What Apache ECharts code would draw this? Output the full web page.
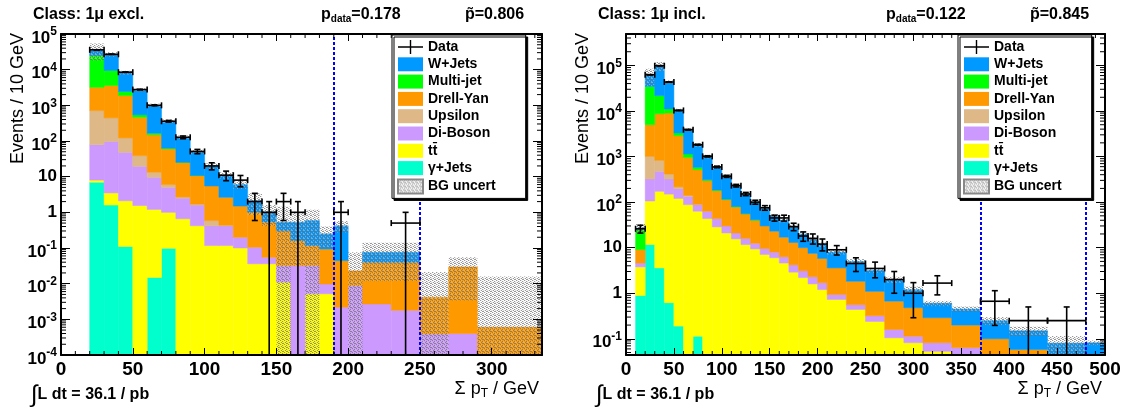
<!DOCTYPE html>
<html><head><meta charset="utf-8">
<script src="https://cdn.jsdelivr.net/npm/echarts@6/dist/echarts.min.js"></script>
<style>html,body{margin:0;padding:0;background:#fff}#c{width:1133px;height:408px}</style>
</head><body><div id="c"></div><script>
// ---------------- DATA ----------------
const processNames = ['γ+Jets', 'tt̄', 'Di-Boson', 'Upsilon', 'Drell-Yan', 'Multi-jet', 'W+Jets']; // stack order bottom -> top
const legendOrder = ['Data', 'W+Jets', 'Multi-jet', 'Drell-Yan', 'Upsilon', 'Di-Boson', 'tt̄', 'γ+Jets', 'BG uncert'];

// Panel 1 : Class 1mu excl.  (Events / 10 GeV)
const exclBinEdges = [20,30,40,50,60,70,80,90,100,110,120,130,140,150,160,170,180,190,200,210,230,250,270,290,340];
const exclGammaJets = [7.0,1.6,0.11,0,0.015,0.098,0,0,0,0,0,0,0,0,0,0,0,0,0,0,0,0,0,0];
const exclTTbar     = [1.0,1.9,2.0,1.55,1.19,0.9,0.66,0.42,0.117,0.117,0.1,0.036,0.036,0.011,0,0.0052,0.0052,0,0,0,0,0,0,0];
const exclDiBoson   = [71,93,46,18,8.4,4.0,1.84,1.18,0.3,0.3,0.1,0.069,0.019,0.021,0.032,0.027,0.0046,0.0022,0.0088,0.0027,0.0018,0.00039,0.0004,0];
const exclUpsilon   = [635,349,74,19.4,3.7,1.0,0.2,0.1,0.17,0.02,0,0,0,0,0,0,0,0,0,0,0,0,0,0];
const exclDrellYan  = [2490,3150,1760,424,136,54,22.3,9.0,4.9,2.2,1.3,0.9,0.48,0.27,0.13,0.085,0.084,0.042,0.014,0.037,0.038,0.0038,0.029,0.0006];
const exclMultiJet  = [21800,5900,560,77,16,3,0.3,0.1,0,0,0,0,0,0,0,0,0,0,0,0,0,0,0,0];
const exclWJets     = [11000,17500,5860,2160,835,297,102,39,14.5,8.4,4.5,1.14,0.47,0.23,0.37,0.47,0.156,0.376,0,0.036,0.036,0,0,0];
const exclBgErr     = [18000,4000,1000,300,110,40,15,7,3.5,2.2,1.5,1.3,0.6,0.9,0.5,0.6,0.15,0.15,0.053,0.064,0.064,0.017,0.026,0.0154];
const exclData      = [36000,27000,8500,2770,1000,358,127,51,20,11,8,2,1,2,1,0,0,1,0,0,0.5,0,0,0];
const exclDataErr   = [190,164,92,53,32,19,11.3,7.1,4.5,3.3,2.8,1.41,1,1.41,1,0,0,1,0,0,0.5,0,0,0];
const exclCutLines  = [190, 250];

// Panel 2 : Class 1mu incl.
const inclBinEdges = [10,20,30,40,50,60,70,80,90,100,110,120,130,140,150,160,170,180,190,200,210,230,250,270,290,310,340,370,400,440,480,520];
const inclGammaJets = [0.89,11.7,3.6,0.62,0.19,0,0.114,0,0,0,0,0,0,0,0,0,0,0,0,0,0,0,0,0,0,0,0,0,0,0,0];
const inclTTbar     = [2.9,94,169,149,120,88,63,43.5,28.6,21,15.6,11.7,9.4,7.1,6.0,4.6,2.9,2.2,1.6,1.2,0.73,0.44,0.24,0.105,0.082,0.053,0.03,0.02,0.01,0.005,0.003];
const inclDiBoson   = [0.8,217,300,173,78,46,25,19.5,14.9,9,5.4,4.3,3.1,2.5,2.0,1.7,1.3,0.9,0.7,0.5,0.21,0.12,0.08,0.055,0.032,0.029,0.034,0.01,0.01,0.005,0.002];
const inclUpsilon   = [0,687,353,92,18,6,2,0,0,0,0,0,0,0,0,0,0,0,0,0,0,0,0,0,0,0,0,0,0,0,0];
const inclDrellYan  = [4.5,3990,7870,8625,2654,820,426,233,135,83,57,39,27.5,20.4,15,10.7,8.8,6.9,5.2,4.1,2.66,1.27,0.78,0.51,0.366,0.208,0.136,0.07,0.038,0.02,0.015];
const inclMultiJet  = [15.9,29600,13000,2030,430,180,64,14,6,3,2,1,1,0,0,0,0,0,0,0,0,0,0,0,0,0,0,0,0,0,0];
const inclWJets     = [2,25400,75300,31930,7000,2760,1220,690,405,254,150,94,59,42,27,23,16,10,7.5,5.9,4.4,3.17,2.1,1.33,0.72,0.31,0.25,0.15,0.092,0.05,0.062];
const inclBgErr     = [6,25000,22000,4000,900,350,150,90,55,35,22,14,10,7,5,4,3,2.2,1.7,1.3,0.9,0.6,0.4,0.3,0.2,0.08,0.06,0.05,0.035,0.035,0.01];
const inclData      = [26,62500,98500,43300,10300,3890,1820,1010,592,368,230,151,100,75,45,45,29,18,16,12,9,4.5,3.5,2.0,1.0,1.67,0,0.667,0.25,0.25,0];
const inclDataErr   = [5.1,250,314,208,101,62,43,32,24,19,15,12.3,10,8.7,6.7,6.7,5.4,4.2,4,3.5,2.1,1.5,1.32,1.0,0.71,0.75,0,0.47,0.25,0.25,0];
const inclCutLines  = [370, 480];

const classLabels = ['Class: 1\u03bc excl.', 'Class: 1\u03bc incl.'];
const pDataValues = ['0.178', '0.122'];
const pTildeValues = ['0.806', '0.845'];
const lumiLabel = 'L dt = 36.1 / pb';

// ---------------- STYLE ----------------
const FONT = '"Liberation Sans", Arial, Helvetica, sans-serif';
const processColors = ['#00ffcc', '#ffff00', '#cc99ff', '#deb887', '#ff9900', '#00ff00', '#0099ff'];

// dotted pattern for BG uncertainty
const pat = document.createElement('canvas'); pat.width = 4; pat.height = 4;
(function(){ const c = pat.getContext('2d'); c.fillStyle = 'rgba(110,110,110,0.7)';
  [[0,0],[2,1],[1,2],[3,3],[2,3]].forEach(p => c.fillRect(p[0], p[1], 1, 1));
  c.fillStyle = 'rgba(200,200,200,0.5)';
  [[1,0],[3,1],[0,2],[3,2]].forEach(p => c.fillRect(p[0], p[1], 1, 1)); })();
const bgPattern = { image: pat, repeat: 'repeat' };

const panels = [
  { edges: exclBinEdges, procs: [exclGammaJets, exclTTbar, exclDiBoson, exclUpsilon, exclDrellYan, exclMultiJet, exclWJets],
    bgErr: exclBgErr, data: exclData, dataErr: exclDataErr, cuts: exclCutLines, xMax: 335, yMin: 1e-4, yMax: 1e5,
    grid: { left: 61, top: 34, width: 481, height: 321 }, legendLeft: 392 },
  { edges: inclBinEdges, procs: [inclGammaJets, inclTTbar, inclDiBoson, inclUpsilon, inclDrellYan, inclMultiJet, inclWJets],
    bgErr: inclBgErr, data: inclData, dataErr: inclDataErr, cuts: inclCutLines, xMax: 500, yMin: 0.0441, yMax: 4.9e5,
    grid: { left: 626, top: 34, width: 479, height: 321 }, legendLeft: 958 }
];

function logLabel(v) {
  const l = Math.log10(v), e = Math.round(l);
  if (Math.abs(l - e) > 1e-6) return '';
  if (e === 0) return '{b|1}';
  if (e === 1) return '{b|10}';
  return '{t|10}{s|' + e + '}';
}
const yRich = {
  b: { fontSize: 17, fontWeight: 'bold', fontFamily: FONT, color: '#000' },
  t: { fontSize: 17, fontWeight: 'bold', fontFamily: FONT, color: '#000', padding: [8, 0, 0, 0] },
  s: { fontSize: 12, fontWeight: 'bold', fontFamily: FONT, color: '#000', padding: [0, 0, 4, 0] }
};

const grids = [], xAxes = [], yAxes = [], series = [];
const axisLineStyle = { show: true, onZero: false, lineStyle: { color: '#000', width: 2 } };

panels.forEach((P, p) => {
  grids.push(Object.assign({ containLabel: false }, P.grid));
  const xCommon = { gridIndex: p, type: 'value', min: 0, max: P.xMax, interval: 50, z: 10, axisLine: axisLineStyle,
    axisTick: { show: true, inside: true, length: 7, lineStyle: { color: '#000', width: 1 } }, splitLine: { show: false } };
  xAxes.push(Object.assign({}, xCommon, { position: 'bottom',
    axisLabel: { show: true, margin: 5, fontSize: 19, fontWeight: 'bold', fontFamily: FONT, color: '#000',
      formatter: v => (Math.abs(v % 50) < 1e-9 ? String(v) : '') } }));
  xAxes.push(Object.assign({}, xCommon, { position: 'top', axisLabel: { show: false } }));
  const yCommon = { gridIndex: p, type: 'log', logBase: 10, min: P.yMin, max: P.yMax, splitNumber: 10, z: 10, axisLine: axisLineStyle,
    axisTick: { show: true, inside: true, length: 9, lineStyle: { color: '#000', width: 1 } }, splitLine: { show: false } };
  yAxes.push(Object.assign({}, yCommon, { position: 'left',
    axisLabel: { show: true, margin: 4, formatter: logLabel, rich: yRich } }));
  yAxes.push(Object.assign({}, yCommon, { position: 'right', axisLabel: { show: false } }));

  const n = P.edges.length - 1;
  const items = [];
  for (let i = 0; i < n; i++) items.push([(P.edges[i] + P.edges[i + 1]) / 2, 1]);
  const xi = 2 * p, yi = 2 * p;

  let base = new Array(n).fill(0);
  P.procs.forEach((vals, k) => {
    const lo = base.slice();
    const hi = base.map((b, i) => b + vals[i]);
    const fill = processColors[k];
    series.push({ type: 'custom', name: processNames[k], xAxisIndex: xi, yAxisIndex: yi, clip: true, silent: true, z: 2,
      itemStyle: { color: fill }, encode: { x: 0, y: 1 }, data: items,
      renderItem: function (params, api) {
        const i = params.dataIndex;
        if (!(hi[i] > lo[i])) return null;
        const a = Math.max(lo[i], P.yMin), b = Math.min(hi[i], P.yMax);
        if (b <= a) return null;
        const p0 = api.coord([P.edges[i], a]), p1 = api.coord([Math.min(P.edges[i + 1], P.xMax), b]);
        return { type: 'rect', shape: { x: p0[0], y: p1[1], width: p1[0] - p0[0], height: p0[1] - p1[1] },
          style: { fill: fill, stroke: fill, lineWidth: 0.5 } };
      } });
    base = hi;
  });
  const total = base;

  // background uncertainty band
  series.push({ type: 'custom', name: 'BG uncert', xAxisIndex: xi, yAxisIndex: yi, clip: true, silent: true, z: 3,
    itemStyle: { color: bgPattern, borderColor: '#888', borderWidth: 1 }, encode: { x: 0, y: 1 }, data: items,
    renderItem: function (params, api) {
      const i = params.dataIndex;
      if (!(total[i] > 0)) return null;
      const lo = Math.max(total[i] - P.bgErr[i], P.yMin), hi = Math.min(total[i] + P.bgErr[i], P.yMax);
      if (hi <= lo) return null;
      const p0 = api.coord([P.edges[i], lo]), p1 = api.coord([Math.min(P.edges[i + 1], P.xMax), hi]);
      return { type: 'rect', shape: { x: p0[0], y: p1[1], width: p1[0] - p0[0], height: p0[1] - p1[1] },
        style: { fill: bgPattern } };
    } });

  // data points with error bars
  series.push({ type: 'custom', name: 'Data', xAxisIndex: xi, yAxisIndex: yi, clip: true, silent: true, z: 5,
    itemStyle: { color: '#000' }, encode: { x: 0, y: 1 }, data: items,
    renderItem: function (params, api) {
      const i = params.dataIndex, v = P.data[i];
      if (!(v > 0)) return null;
      const e = P.dataErr[i];
      const xc = (P.edges[i] + P.edges[i + 1]) / 2;
      const pl = api.coord([P.edges[i], v]), pr = api.coord([Math.min(P.edges[i + 1], P.xMax), v]);
      const up = api.coord([xc, Math.min(v + e, P.yMax)]);
      const lowOk = v - e > P.yMin;
      const dn = api.coord([xc, lowOk ? v - e : P.yMin]);
      const st = { stroke: '#000', lineWidth: 1.6 };
      const L = (x1, y1, x2, y2) => ({ type: 'line', shape: { x1, y1, x2, y2 }, style: st });
      const ch = [L(pl[0], pl[1], pr[0], pr[1]), L(up[0], up[1], dn[0], dn[1]),
        L(pl[0], pl[1] - 3, pl[0], pl[1] + 3), L(pr[0], pr[1] - 3, pr[0], pr[1] + 3),
        L(up[0] - 3, up[1], up[0] + 3, up[1])];
      if (lowOk) ch.push(L(dn[0] - 3, dn[1], dn[0] + 3, dn[1]));
      return { type: 'group', children: ch };
    },
    markLine: { silent: true, animation: false, symbol: ['none', 'none'], label: { show: false },
      lineStyle: { color: '#0000ff', width: 2, type: [3, 2] },
      data: P.cuts.map(c => ({ xAxis: c })) } });

  // minor ticks on all four sides
  const minor = [];
  for (let k = Math.floor(Math.log10(P.yMin)); k <= Math.ceil(Math.log10(P.yMax)); k++)
    for (let m = 2; m <= 9; m++) { const v = m * Math.pow(10, k); if (v > P.yMin && v < P.yMax) minor.push(['y', v]); }
  for (let v = 10; v < P.xMax; v += 10) if (v % 50 !== 0) minor.push(['x', v]);
  series.push({ type: 'custom', name: 'ticks' + p, xAxisIndex: xi, yAxisIndex: yi, silent: true, z: 6,
    data: minor.map(() => [0, 1]), encode: { x: 0, y: 1 },
    renderItem: function (params, api) {
      const t = minor[params.dataIndex];
      const st = { stroke: '#000', lineWidth: 1 };
      if (t[0] === 'y') {
        const a = api.coord([0, t[1]]), b = api.coord([P.xMax, t[1]]);
        return { type: 'group', children: [
          { type: 'line', shape: { x1: a[0], y1: a[1], x2: a[0] + 5, y2: a[1] }, style: st },
          { type: 'line', shape: { x1: b[0] - 5, y1: b[1], x2: b[0], y2: b[1] }, style: st }] };
      }
      const a = api.coord([t[1], P.yMin]), b = api.coord([t[1], P.yMax]);
      return { type: 'group', children: [
        { type: 'line', shape: { x1: a[0], y1: a[1], x2: a[0], y2: a[1] - 4 }, style: st },
        { type: 'line', shape: { x1: b[0], y1: b[1], x2: b[0], y2: b[1] + 4 }, style: st }] };
    } });
});

const legendData = legendOrder.map(nm => nm === 'Data'
  ? { name: nm, icon: 'path://M0,6.3L25,6.3L25,7.7L0,7.7Z M11.8,0L13.2,0L13.2,14L11.8,14Z' }
  : { name: nm, icon: 'rect' });
const legends = panels.map(P => ({
  left: P.legendLeft, top: 35, orient: 'vertical', data: legendData, selectedMode: false, z: 20,
  itemWidth: 25, itemHeight: 14, itemGap: 3.3, padding: [5, 30, 4, 5],
  backgroundColor: '#fff', borderColor: '#000', borderWidth: 1,
  shadowColor: '#000', shadowOffsetX: 2, shadowOffsetY: 2, shadowBlur: 0,
  textStyle: { fontFamily: FONT, fontSize: 14, fontWeight: 'bold', color: '#000' }
}));

const texts = [];
panels.forEach((P, p) => {
  const gx = P.grid.left, gr = P.grid.left + P.grid.width;
  texts.push({ type: 'text', x: gx - 28, y: 15, style: { text: classLabels[p], font: 'bold 16px ' + FONT, fill: '#000', textVerticalAlign: 'middle' } });
  texts.push({ type: 'text', x: gx + 260, y: 15, style: { text: '{a|p}{b|data}{a|=' + pDataValues[p] + '}', textVerticalAlign: 'middle',
    rich: { a: { font: 'bold 16px ' + FONT, fill: '#000' }, b: { font: 'bold 10px ' + FONT, fill: '#000', padding: [9, 0, 0, 0] } } } });
  texts.push({ type: 'text', x: gx + 404, y: 15, style: { text: 'p\u0303=' + pTildeValues[p], font: 'bold 16px ' + FONT, fill: '#000', textVerticalAlign: 'middle' } });
  texts.push({ type: 'text', x: gx - 43, y: 33, rotation: Math.PI / 2, style: { text: 'Events / 10 GeV', font: '18px ' + FONT, fill: '#000', textAlign: 'right', textVerticalAlign: 'middle' } });
  texts.push({ type: 'text', x: gr - 3, y: 389, style: { text: '{a|\u03a3 p}{b|T}{a| / GeV}', textAlign: 'right', textVerticalAlign: 'middle',
    rich: { a: { font: '18px ' + FONT, fill: '#000' }, b: { font: '12px ' + FONT, fill: '#000', padding: [10, 0, 0, 0] } } } });
  texts.push({ type: 'text', x: gx - 30, y: 395, style: { text: '{i|\u222b}{l|' + lumiLabel + '}', textVerticalAlign: 'middle',
    rich: { i: { font: '24px ' + FONT, fill: '#000' }, l: { font: 'bold 16px ' + FONT, fill: '#000' } } } });
});

const chart = echarts.init(document.getElementById('c'), null, { renderer: 'canvas' });
chart.setOption({
  animation: false, backgroundColor: '#fff',
  grid: grids, xAxis: xAxes, yAxis: yAxes, legend: legends, series: series,
  graphic: { elements: texts }
});
</script></body></html>
